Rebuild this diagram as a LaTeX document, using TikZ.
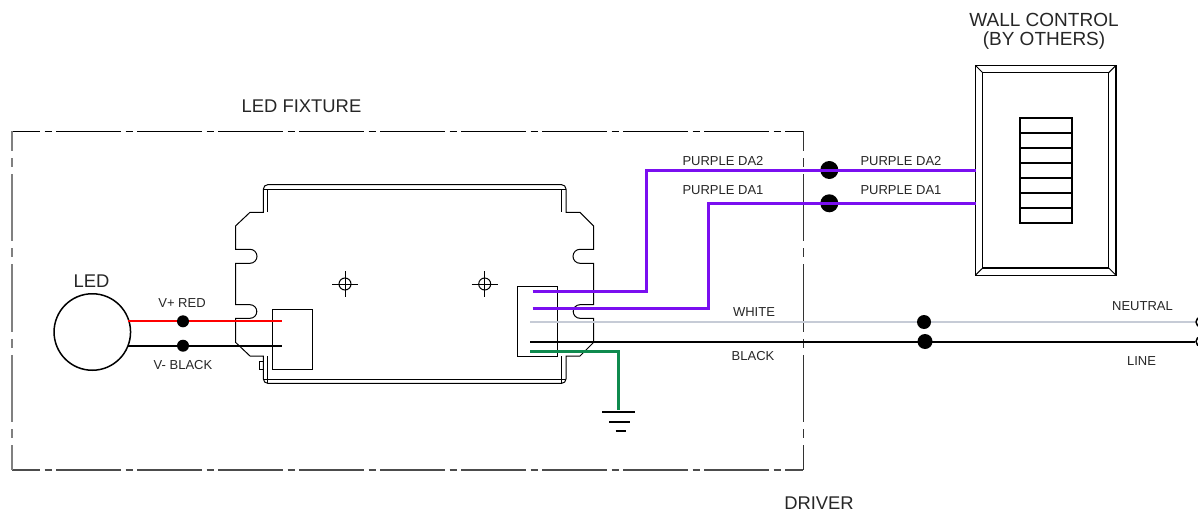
\documentclass[tikz,border=0pt]{standalone}
\usepackage{fontspec}
\setmainfont{Liberation Sans}
\definecolor{wirepurple}{HTML}{7A0FF0}
\definecolor{wiregreen}{HTML}{0E8A4E}
\definecolor{wirewhite}{HTML}{C6CBD6}
\tikzset{
  dot/.style={circle,fill=black,inner sep=0pt},
  lbl/.style={inner sep=0pt,text=black!85,font=\fontsize{13}{13}\selectfont},
  biglbl/.style={inner sep=0pt,text=black!85,font=\fontsize{18.4}{19}\selectfont,align=center},
  outline/.style={draw=black,line width=1pt},
  hframe/.style={line width=1pt,dash pattern=on 65pt off 4.5pt on 7pt off 4.5pt,dash phase=37pt},
  vframe/.style={line width=1pt,dash pattern=on 67.4pt off 7pt on 9pt off 7pt,dash phase=47.4pt},
  purplewire/.style={draw=wirepurple,line width=3pt},
  redwire/.style={draw=red,line width=2pt},
  blackwire/.style={draw=black,line width=2pt},
  whitewire/.style={draw=wirewhite,line width=2pt},
  greenwire/.style={draw=wiregreen,line width=3pt}
}
\begin{document}
\begin{tikzpicture}[x=1pt,y=-1pt]
      \useasboundingbox (0,0) rectangle (1198,511);
      % fixture frame
      \draw[hframe] (12,131) -- (803,131);
      \draw[hframe,draw=black!70,line width=1.3pt] (12,470) -- (803,470);
      \draw[vframe,draw=black!50,line width=1.8pt] (12,131) -- (12,470);
      \draw[vframe,draw=black!80] (803,131) -- (803,470);
      % driver
      \draw[outline]
        (267.7,184.7) -- (561.7,184.7) arc (90:0:4.3pt) -- (566,212.3) -- (580,212.3) -- (593.7,226)
        -- (593.7,249.3) -- (580,249.3) arc (90:270:7pt) -- (593.7,263.3) -- (593.7,304.7)
        -- (580,304.7) arc (90:270:6.8pt) -- (593.7,318.3) -- (593.7,342.3) -- (580,356) -- (566,356)
        -- (566,379) arc (0:-90:4.3pt) -- (267.7,383.3) arc (270:180:4.3pt) -- (263.4,356)
        -- (250,356) -- (235.5,342.3) -- (235.5,318.3) -- (250,318.3) arc (270:450:6.8pt)
        -- (235.5,304.7) -- (235.5,263.3) -- (250,263.3) arc (270:450:7pt) -- (235.5,249.3)
        -- (235.5,226) -- (250,212.3) -- (263.4,212.3) -- (263.4,189) arc (180:90:4.3pt) -- cycle;
      \draw[outline] (263.4,189) -- (566,189);
      \draw[outline] (263.4,379) -- (566,379);
      \draw[outline] (267.7,189) -- (267.7,212.3);
      \draw[outline] (561.7,189) -- (561.7,212.3);
      \draw[outline] (267.7,356) -- (267.7,383.3);
      \draw[outline] (561.7,356) -- (561.7,383.3);
      \draw[outline] (263.4,361) -- (259,361) -- (259,369.3) -- (263.4,369.3);
      % mounting holes
      \foreach \x in {345,484.7} {
        \draw[outline] (\x,284) circle (6pt);
        \draw[outline] (\x-13,284) -- (\x+13,284);
        \draw[outline] (\x,271) -- (\x,297);
      }
      % connectors
      \draw[outline] (272.3,309.3) rectangle (312.3,369.3);
      \draw[outline] (517.3,286.7) rectangle (557.3,356.7);
      % wall control
      \draw[outline,line width=1.2pt] (975.3,65.3) rectangle (1116,275.3);
      \draw[outline,line width=1.2pt] (982.7,72.7) rectangle (1108.7,268);
      \draw[outline] (975.3,65.3) -- (982.7,72.7);
      \draw[outline] (1116,65.3) -- (1108.7,72.7);
      \draw[outline] (975.3,275.3) -- (982.7,268);
      \draw[outline] (1116,275.3) -- (1108.7,268);
      \draw[outline,line width=1.6pt] (1019.7,117.7) rectangle (1072,223);
      \foreach \i in {1,...,6} {
        \draw[outline,line width=1.6pt] (1019.7,117.7+15.04*\i) -- (1072,117.7+15.04*\i);
      }
      % nodes
      \draw
        (92.3,332) node[circle,draw=black,line width=1.5pt,minimum size=76.5pt,inner sep=0pt] (led){}
        (1201,322) node[circle,draw=black,line width=1.5pt,minimum size=10pt,inner sep=0pt] (neutralterm){}
        (1201,341.5) node[circle,draw=black,line width=1.5pt,minimum size=10pt,inner sep=0pt] (lineterm){};
      \coordinate (redstart) at (128,321.3);
      \coordinate (redend) at (282,321.3);
      \coordinate (blackstart) at (128,345.7);
      \coordinate (blackend) at (282,345.7);
      \coordinate (da2start) at (532.7,291.7);
      \coordinate (da2bend) at (646,170);
      \coordinate (da2end) at (976,170);
      \coordinate (da1start) at (532.7,308.3);
      \coordinate (da1bend) at (708,203.3);
      \coordinate (da1end) at (976,203.3);
      \coordinate (whitestart) at (530,322);
      \coordinate (linestart) at (530,341.5);
      \coordinate (greenstart) at (530,351.3);
      \coordinate (greenend) at (618,410);
      \begin{scope}[-]
        \draw[redwire] (redstart) to (redend);
        \draw[blackwire] (blackstart) to (blackend);
        \draw[whitewire] (whitestart) to (neutralterm);
        \draw[blackwire] (linestart) to (lineterm);
        \draw[greenwire] (greenstart) -| (greenend);
      \end{scope}
      \draw
        (183,321.3) node[dot,minimum size=12pt] (redsplice){}
        (183,345.7) node[dot,minimum size=12pt] (blacksplice){}
        (829.3,170) node[dot,minimum size=18pt] (da2splice){}
        (829.3,203.3) node[dot,minimum size=18pt] (da1splice){}
        (924,322) node[dot,minimum size=14pt] (neutralsplice){}
        (925,341.5) node[dot,minimum size=15pt] (linesplice){};
      \begin{scope}[-]
        \draw[purplewire] (da2start) -| (da2bend) -- (da2end);
        \draw[purplewire] (da1start) -| (da1bend) -- (da1end);
      \end{scope}
      % ground
      \draw[outline,line width=1.7pt] (602,412) -- (635,412);
      \draw[outline,line width=1.7pt] (609,422) -- (630,422);
      \draw[outline,line width=1.7pt] (615.7,431.3) -- (625.7,431.3);
      % labels
      \node[biglbl] (fixturelabel) at (301.5,106) {LED FIXTURE};
      \node[biglbl] (ledlabel) at (91.5,281) {LED};
      \node[biglbl] (driverlabel) at (819,503) {DRIVER};
      \node[biglbl,font=\fontsize{19}{19}\selectfont] (walllabel) at (1044,31.5) {WALL CONTROL\\(BY OTHERS)};
      \node[lbl] (redlabel) at (182,303.5) {V+ RED};
      \node[lbl] (blacklabel) at (183,365.5) {V- BLACK};
      \node[lbl] (da2left) at (723,161.5) {PURPLE DA2};
      \node[lbl] (da2right) at (901,161.5) {PURPLE DA2};
      \node[lbl] (da1left) at (723,190.5) {PURPLE DA1};
      \node[lbl] (da1right) at (901,190.5) {PURPLE DA1};
      \node[lbl] (whitelabel) at (754,312.5) {WHITE};
      \node[lbl] (blacktext) at (753,356.5) {BLACK};
      \node[lbl] (neutrallabel) at (1142.5,306) {NEUTRAL};
      \node[lbl] (linelabel) at (1141.5,361.5) {LINE};
    \end{tikzpicture}
\end{document}
